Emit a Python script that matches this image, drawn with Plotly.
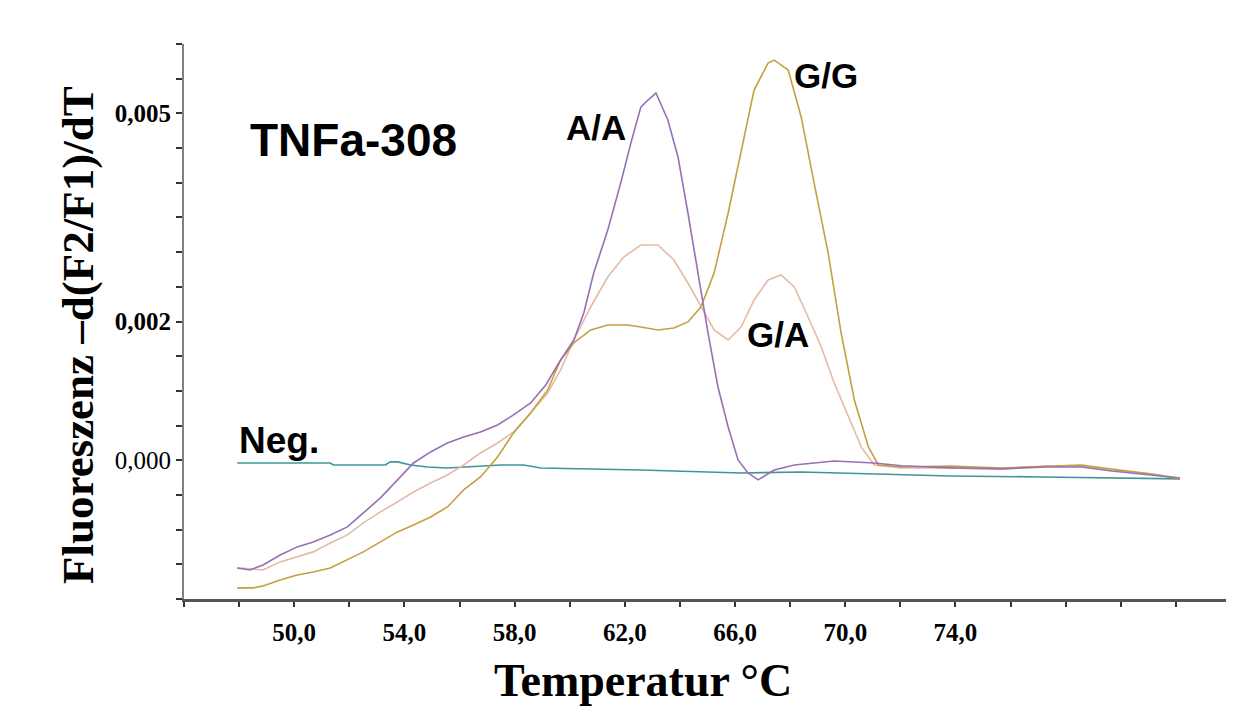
import plotly.graph_objects as go

# ---------------- data (values in units of 0.001) ----------------
SCALE = 1e-3

aa_temp = [47.93, 48.40, 48.87, 49.49, 50.11, 50.69, 51.31, 51.93, 52.51, 53.13,
           53.75, 54.33, 54.95, 55.56, 56.15, 56.76, 57.38, 57.96, 58.58, 59.13,
           59.67, 60.15, 60.51, 60.87, 61.38, 61.85, 62.22, 62.58, 62.84, 63.13,
           63.56, 63.93, 64.29, 64.65, 65.02, 65.38, 65.75, 66.11, 66.47, 66.84,
           67.42, 68.15, 68.87, 69.60, 71.05, 72.04, 73.85, 75.67, 77.31, 78.58,
           79.67, 81.13, 82.15]
aa_value = [-1.552, -1.581, -1.509, -1.365, -1.249, -1.177, -1.076, -0.961, -0.759, -0.543,
            -0.283, -0.039, 0.120, 0.249, 0.336, 0.408, 0.509, 0.653, 0.826, 1.085,
            1.445, 1.734, 2.123, 2.699, 3.319, 3.996, 4.572, 5.091, 5.192, 5.293,
            4.904, 4.371, 3.564, 2.699, 1.834, 1.056, 0.480, 0.004, -0.184, -0.283,
            -0.140, -0.068, -0.039, -0.010, -0.040, -0.080, -0.110, -0.125, -0.097, -0.097,
            -0.154, -0.210, -0.255]

ga_temp = [47.93, 48.87, 49.49, 50.11, 50.69, 51.31, 51.93, 52.51, 53.13, 53.75,
           54.33, 54.95, 55.56, 56.15, 56.76, 57.38, 57.96, 58.58, 59.20, 59.67,
           60.15, 60.76, 61.38, 61.96, 62.58, 63.20, 63.78, 64.29, 64.76, 65.24,
           65.75, 66.22, 66.69, 67.20, 67.67, 68.15, 68.65, 69.13, 69.60, 70.11,
           70.58, 71.05, 72.04, 73.85, 75.67, 77.31, 78.58, 79.67, 81.13, 82.15]
ga_value = [-1.552, -1.581, -1.465, -1.393, -1.321, -1.192, -1.076, -0.903, -0.745, -0.601,
            -0.457, -0.327, -0.212, -0.068, 0.105, 0.249, 0.408, 0.682, 0.970, 1.301,
            1.734, 2.209, 2.641, 2.930, 3.103, 3.103, 2.887, 2.555, 2.209, 1.878,
            1.734, 1.921, 2.310, 2.598, 2.670, 2.497, 2.065, 1.633, 1.114, 0.624,
            0.192, -0.068, -0.111, -0.111, -0.125, -0.082, -0.082, -0.140, -0.197, -0.255]

gg_temp = [47.93, 48.51, 48.87, 49.49, 50.11, 50.69, 51.31, 51.93, 52.51, 53.13,
           53.75, 54.33, 54.95, 55.56, 56.15, 56.76, 57.38, 57.96, 58.58, 59.20,
           59.67, 60.15, 60.76, 61.38, 62.11, 62.58, 63.20, 63.78, 64.29, 64.76,
           65.24, 65.75, 66.22, 66.69, 67.20, 67.42, 67.93, 68.40, 68.87, 69.38,
           69.85, 70.33, 70.84, 71.20, 72.04, 73.85, 75.67, 77.31, 78.58, 79.67,
           81.13, 82.15]
gg_value = [-1.840, -1.840, -1.811, -1.725, -1.653, -1.610, -1.552, -1.437, -1.321, -1.177,
            -1.033, -0.932, -0.817, -0.673, -0.428, -0.240, 0.048, 0.394, 0.682, 1.013,
            1.445, 1.691, 1.878, 1.950, 1.950, 1.921, 1.878, 1.907, 1.994, 2.209,
            2.699, 3.564, 4.471, 5.336, 5.725, 5.768, 5.624, 4.947, 3.996, 2.987,
            1.834, 0.869, 0.192, -0.068, -0.097, -0.082, -0.111, -0.082, -0.068, -0.125,
            -0.197, -0.269]

neg_temp = [47.93, 51.31, 51.42, 53.31, 53.49, 53.75, 54.22, 54.84, 55.56, 56.87,
            57.49, 58.33, 58.95, 62.58, 66.22, 68.40, 71.31, 73.85, 77.13, 79.31, 82.15]
neg_value = [-0.039, -0.039, -0.068, -0.068, -0.024, -0.024, -0.068, -0.097, -0.111, -0.082,
             -0.068, -0.068, -0.111, -0.140, -0.183, -0.169, -0.198, -0.226, -0.241, -0.255, -0.269]

x_tick_vals = list(range(46, 85, 2))
x_tick_text = ["<b>%d,0</b>" % t if t in (50, 54, 58, 62, 66, 70, 74) else "" for t in x_tick_vals]
y_tick_vals = [i * 0.0005 for i in range(-4, 13)]
y_tick_labels = {0: "0,000", 4: "<b>0,002</b>", 10: "<b>0,005</b>"}
y_tick_text = [y_tick_labels.get(i, "") for i in range(-4, 13)]

series = [
    ("Neg.", neg_temp, neg_value, "rgb(64,150,150)"),
    ("G/A", ga_temp, ga_value, "rgb(228,186,166)"),
    ("G/G", gg_temp, gg_value, "rgb(196,160,64)"),
    ("A/A", aa_temp, aa_value, "rgb(150,112,182)"),
]

fig = go.Figure()
for name, xs, ys, col in series:
    fig.add_trace(go.Scatter(x=xs, y=[v * SCALE for v in ys], mode="lines", name=name,
                             line=dict(color=col, width=1.6)))

labels = [
    ("TNFa-308", 52.15, 4.62, 46),
    ("A/A", 60.95, 4.80, 35),
    ("G/G", 69.31, 5.55, 35),
    ("G/A", 67.56, 1.81, 35),
    ("Neg.", 49.45, 0.28, 37),
]
for txt, lx, ly, sz in labels:
    fig.add_annotation(x=lx, y=ly * SCALE, xref="x", yref="y",
                       text="<b>%s</b>" % txt, showarrow=False,
                       font=dict(family="Liberation Sans, Arial", size=sz, color="black"),
                       xanchor="center", yanchor="middle")

serif = "Liberation Serif, Times New Roman"

# axis titles (placed as paper annotations to match the off-centre layout)
fig.add_annotation(x=0.4384, y=-0.146, xref="paper", yref="paper",
                   text="<b>Temperatur °C</b>", showarrow=False,
                   font=dict(family=serif, size=46, color="black"),
                   xanchor="center", yanchor="middle")
fig.add_annotation(x=-0.1012, y=0.4757, xref="paper", yref="paper",
                   text="<b>Fluoreszenz –d(F2/F1)/dT</b>", showarrow=False, textangle=-90,
                   font=dict(family=serif, size=45, color="black"),
                   xanchor="center", yanchor="middle")

fig.update_layout(
    width=1226, height=698,
    margin=dict(l=176, r=3, t=36, b=107),
    paper_bgcolor="white", plot_bgcolor="white",
    showlegend=False,
    xaxis=dict(range=[46, 84], tickmode="array", tickvals=x_tick_vals, ticktext=x_tick_text,
               showgrid=False, zeroline=False, showline=True, linecolor="#555555", linewidth=3,
               ticks="outside", ticklen=5, tickwidth=2, tickcolor="#333333",
               ticklabelstandoff=4,
               tickfont=dict(family=serif, size=25, color="black")),
    yaxis=dict(range=[-0.002, 0.006], tickmode="array", tickvals=y_tick_vals, ticktext=y_tick_text,
               showgrid=False, zeroline=False, showline=True, linecolor="#808080", linewidth=2,
               ticks="outside", ticklen=6, tickwidth=2, tickcolor="#333333",
               tickfont=dict(family=serif, size=25, color="black")),
)

fig.write_html("out.html")
